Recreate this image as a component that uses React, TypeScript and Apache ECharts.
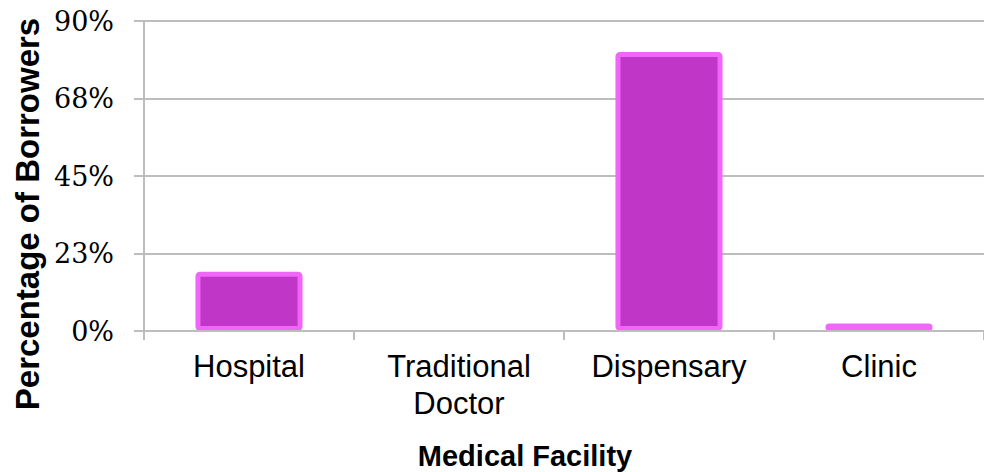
import React, { useEffect, useRef } from "react";
import * as echarts from "echarts";

const categories = ["Hospital", "Traditional\nDoctor", "Dispensary", "Clinic"];
const percentages = [17.2, 0, 81, 2.2];
const yMin = 0;
const yMax = 90;
const yInterval = 22.5;
const xTitle = "Medical Facility";
const yTitle = "Percentage of Borrowers";

export default function App() {
  const ref = useRef<HTMLDivElement>(null);
  useEffect(() => {
    if (!ref.current) return;
    const chart = echarts.init(ref.current, null, { renderer: "svg" });
    const grey = "#BDBDBD";
    chart.setOption({
      animation: false,
      backgroundColor: "#ffffff",
      grid: { left: 144, top: 21, width: 850, height: 310, containLabel: false },
      xAxis: {
        type: "category",
        data: categories,
        z: 3,
        axisLine: { show: true, lineStyle: { color: grey, width: 2 } },
        axisTick: { show: true, length: 9, lineStyle: { color: grey, width: 2 } },
        axisLabel: {
          color: "#000",
          fontFamily: "Liberation Sans, Arial, sans-serif",
          fontSize: 31,
          lineHeight: 37,
          margin: 17,
          interval: 0,
        },
      },
      yAxis: {
        type: "value",
        min: yMin,
        max: yMax,
        interval: yInterval,
        axisLine: { show: true, lineStyle: { color: grey, width: 2 } },
        axisTick: { show: true, length: 10, lineStyle: { color: grey, width: 2 } },
        splitLine: { show: true, lineStyle: { color: grey, width: 2 } },
        axisLabel: {
          color: "#000",
          fontFamily: "DejaVu Serif, serif",
          fontSize: 27,
          margin: 30,
          formatter: (v: number) => Math.round(v) + "%",
        },
      },
      graphic: [
        {
          type: "text",
          x: 525,
          y: 456,
          style: {
            text: xTitle,
            fill: "#000",
            font: "bold 29px 'Liberation Sans', Arial, sans-serif",
            textAlign: "center",
            textVerticalAlign: "middle",
          },
        },
        {
          type: "text",
          x: 27,
          y: 214,
          rotation: Math.PI / 2,
          style: {
            text: yTitle,
            fill: "#000",
            font: "bold 33px 'Liberation Sans', Arial, sans-serif",
            textAlign: "center",
            textVerticalAlign: "middle",
          },
        },
      ],
      series: [
        {
          type: "bar",
          barWidth: "51%",
          data: percentages.map((v) =>
            v === 0 ? { value: v, itemStyle: { borderWidth: 0 } } : v
          ),
          itemStyle: {
            color: "#C037C8",
            borderColor: "#EF66F8",
            borderWidth: 5,
            borderRadius: 2,
          },
        },
      ],
    });
    return () => chart.dispose();
  }, []);
  return (
    <div
      ref={ref}
      style={{ position: "fixed", left: 0, top: 0, width: 984, height: 472 }}
    />
  );
}
